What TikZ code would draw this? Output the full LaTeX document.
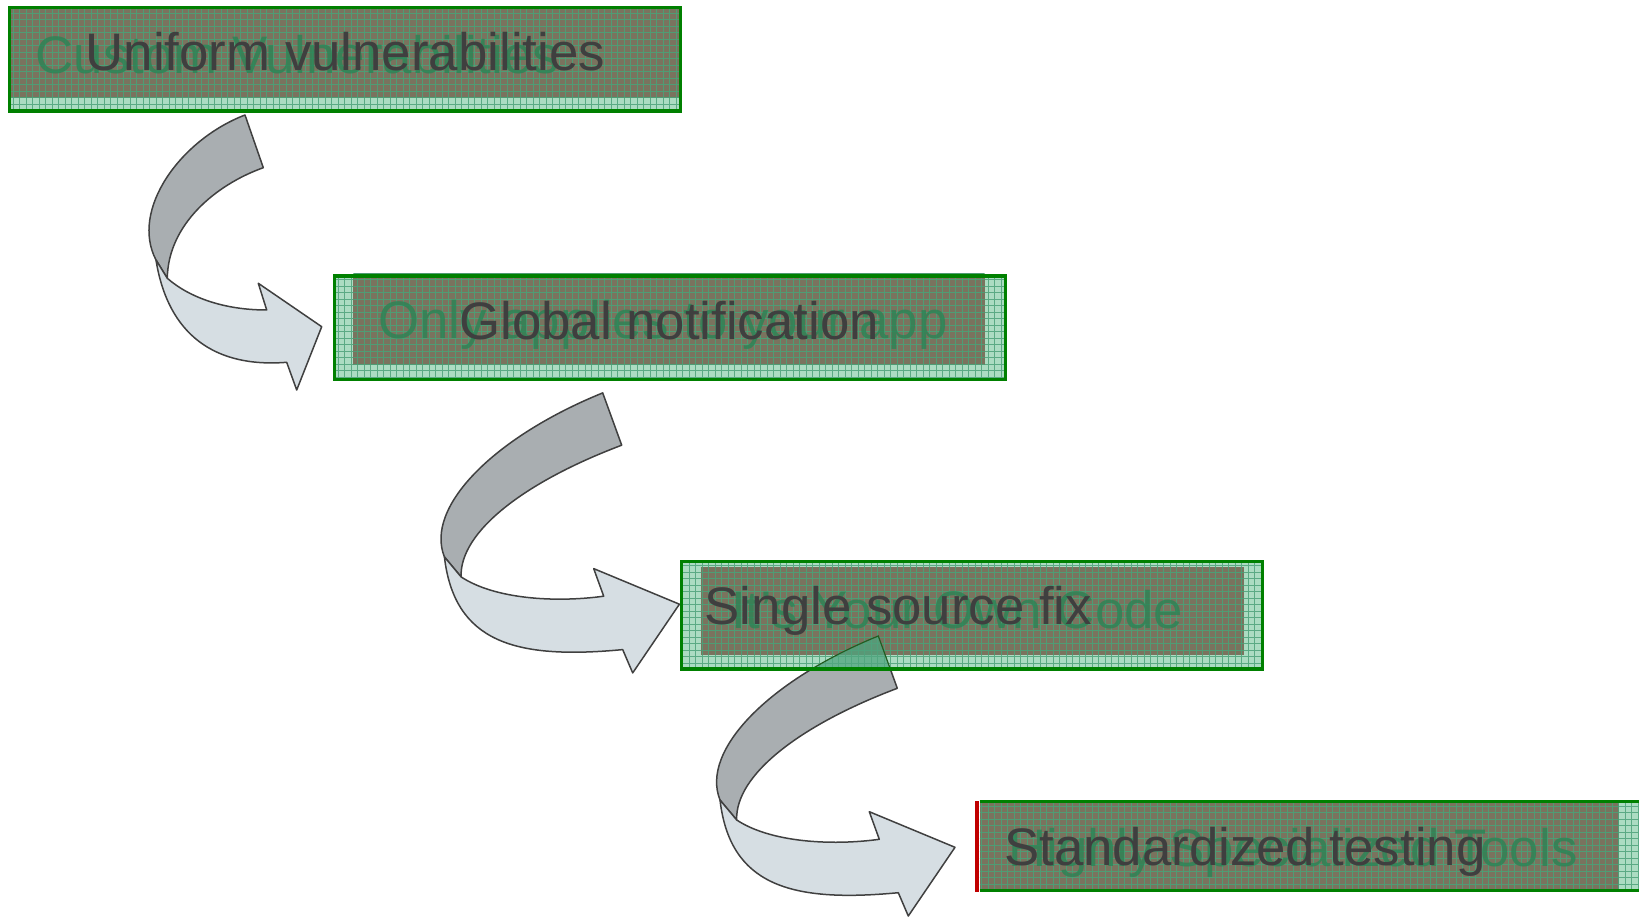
\documentclass[tikz,border=0pt]{standalone}
\usepackage{fontspec}
\setmainfont{Liberation Sans}

\definecolor{inkgrey}{HTML}{3F3F3F}
\definecolor{ghostgreen}{HTML}{2A8455}
\definecolor{framegreen}{HTML}{008000}
\definecolor{mintbase}{HTML}{ACDCC2}
\definecolor{mintline}{HTML}{5BAA84}
\definecolor{brownbase}{HTML}{7A735E}
\definecolor{brownline}{HTML}{4F9C74}
\definecolor{ribbondark}{HTML}{A9AEB1}
\definecolor{ribbonlight}{HTML}{D6DEE3}
\definecolor{ribbonline}{HTML}{404040}
\definecolor{overlapgreen}{HTML}{4FA57F}
\definecolor{edgered}{HTML}{C00000}

\tikzset{
  label text/.style={anchor=base west, inner sep=0pt, text=inkgrey,
    font=\fontsize{52.8}{60}\selectfont},
  ghost text/.style={anchor=base west, inner sep=0pt, text=ghostgreen,
    text opacity=0.8, font=\fontsize{52.8}{60}\selectfont},
  frame/.style={draw=framegreen, line width=3.5pt},
  ribbon back/.style={fill=ribbondark, draw=ribbonline, line width=1.5pt, line join=round},
  ribbon front/.style={fill=ribbonlight, draw=ribbonline, line width=1.5pt, line join=round},
}

% hatched rectangle: x1, y1, x2, y2, base colour, grid colour
\newcommand{\hatchfill}[6]{%
  \fill[#5] (#1,#2) rectangle (#3,#4);
  \begin{scope}
    \clip (#1,#2) rectangle (#3,#4);
    \pgfmathtruncatemacro\hxa{#1/6.5}
    \pgfmathtruncatemacro\hxb{#3/6.5+1}
    \pgfmathtruncatemacro\hya{#2/6.5}
    \pgfmathtruncatemacro\hyb{#4/6.5+1}
    \foreach \gi in {\hxa,...,\hxb}
      \draw[#6, line width=0.7pt] ({\gi*6.5},#2) -- ({\gi*6.5},#4);
    \foreach \gj in {\hya,...,\hyb}
      \draw[#6, line width=0.7pt] (#1,{\gj*6.5}) -- (#3,{\gj*6.5});
  \end{scope}}

% ribbon arrow outlines: the back (darker) band and the front band with its head
\def\ArrowOneBack{(245,115) .. controls (180,140) and (130,210) .. (156,260)
  -- (167.3,278.3) .. controls (168,225) and (215,185) .. (263.3,167.7) -- cycle}
\def\ArrowOneFront{(156,260) .. controls (168,335) and (215,368) .. (286.7,362.3)
  -- (296.7,390) -- (321.7,326.7) -- (258.3,283.3) -- (266.7,310)
  .. controls (225,310) and (190,298) .. (167.3,278.3) -- cycle}
\def\ArrowThreeBack{(878.3,636) .. controls (770,680) and (700,750) .. (720,800)
  -- (736.7,820) .. controls (735,775) and (800,725) .. (897.3,688.3) -- cycle}
\def\ArrowThreeFront{(720,800) .. controls (730,885) and (790,903) .. (898.3,892.7)
  -- (908.3,916) -- (955,847.3) -- (869.3,811.7) -- (879.3,839.3)
  .. controls (830,846) and (770,842) .. (736.7,820) -- cycle}

\begin{document}
\begin{tikzpicture}[x=1pt, y=-1pt]
\useasboundingbox (0,0) rectangle (1639,917);
\clip (0,0) rectangle (1639,917);

% curved ribbon arrows
\path[ribbon back] \ArrowOneBack;
\path[ribbon front] \ArrowOneFront;
\begin{scope}[shift={(-275.6,-243.1)}]
  \path[ribbon back] \ArrowThreeBack;
  \path[ribbon front] \ArrowThreeFront;
\end{scope}
\path[ribbon back] \ArrowThreeBack;
\path[ribbon front] \ArrowThreeFront;

% box 1
\hatchfill{9.4}{7.3}{680.5}{110.8}{mintbase}{mintline}
\hatchfill{9.4}{7.3}{680.5}{98}{brownbase}{brownline}
\node[ghost text] (g1) at (35.5,74) {Custom Vulnerabilities};
\node[label text] (t1) at (85.5,71) {Uniform vulnerabilities};
\draw[frame] (9.4,7.3) rectangle (680.5,110.8);

% box 2
\hatchfill{334.5}{276}{1005.6}{379.4}{mintbase}{mintline}
\hatchfill{353.3}{274}{984.7}{364.8}{brownbase}{brownline}
\node[ghost text] (g2) at (378,339) {Only applies to your app};
\node[label text] (t2) at (459,340) {Global notification};
\draw[frame] (334.5,276) rectangle (1005.6,379.4);

% box 3
\hatchfill{681.5}{561.3}{1262.7}{669}{mintbase}{mintline}
\hatchfill{701.4}{566.5}{1244}{655.4}{brownbase}{brownline}
\begin{scope}
  \clip (681.5,561.3) rectangle (1262.7,669);
  \fill[overlapgreen, opacity=0.75] \ArrowThreeBack;
  \draw[ribbonline!55!framegreen, line width=1.2pt] \ArrowThreeBack;
\end{scope}
\node[ghost text] (g3) at (731,628) {It's Your Own Code};
\node[label text] (t3) at (704.5,624) {Single source fix};
\draw[frame] (681.5,561.3) rectangle (1262.7,669);

% box 4
\hatchfill{979.5}{801.7}{1650}{890.6}{mintbase}{mintline}
\hatchfill{979.5}{801.7}{1619}{890.6}{brownbase}{brownline}
\node[ghost text] (g4) at (1008,866) {Highly Specialized Tools};
\node[label text] (t4) at (1004,865.5) {Standardized testing};
\draw[frame] (979.5,801.7) -- (1660,801.7) (979.5,890.6) -- (1660,890.6);
\draw[edgered, line width=3.5pt] (977,801) -- (977,892);
\end{tikzpicture}
\end{document}
